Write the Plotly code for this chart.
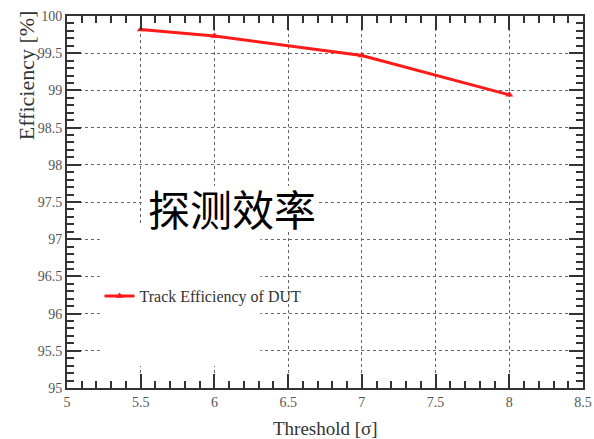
import plotly.graph_objects as go

# Track efficiency versus threshold
threshold = [5.5, 6.0, 7.0, 8.0]
efficiency = [99.82, 99.73, 99.47, 98.94]
series_name = "Track Efficiency of DUT"
x_ticks = [5, 5.5, 6, 6.5, 7, 7.5, 8, 8.5]
y_ticks = [95, 95.5, 96, 96.5, 97, 97.5, 98, 98.5, 99, 99.5, 100]

SERIF = "Liberation Serif, Times New Roman, serif"
AXIS_COLOR = "#333333"

fig = go.Figure()
fig.add_trace(go.Scatter(
    x=threshold, y=efficiency, name=series_name,
    mode="lines+markers",
    line=dict(color="#ff1a1a", width=3),
    marker=dict(symbol="triangle-up", size=7, color="#ff1a1a"),
))

axis_common = dict(
    showline=True, linecolor=AXIS_COLOR, linewidth=2, mirror="ticks",
    ticks="inside", ticklen=14, tickwidth=2, tickcolor=AXIS_COLOR,
    showgrid=True, gridcolor="#666666", gridwidth=1, griddash="dot",
    zeroline=False, automargin=False, ticklabeloverflow="allow",
    tickfont=dict(family=SERIF, size=14, color="#555555"),
    minor=dict(ticks="inside", ticklen=7, tickwidth=2, tickcolor=AXIS_COLOR,
               dtick=0.1, showgrid=False),
)

fig.update_xaxes(range=[5, 8.5], tickvals=x_ticks,
                 ticktext=[f"{v:g}" for v in x_ticks], **axis_common)
fig.update_yaxes(range=[95, 100], tickvals=y_ticks,
                 ticktext=[f"{v:g}" for v in y_ticks], **axis_common)

# White panels behind the caption and the legend hide the grid there
fig.add_shape(type="rect", xref="x", yref="y", x0=5.222, x1=6.312,
              y0=95.296, y1=97.218, fillcolor="white", line_width=0,
              layer="between")
fig.add_shape(type="rect", xref="x", yref="y", x0=5.525, x1=6.703,
              y0=97.110, y1=97.715, fillcolor="white", line_width=0,
              layer="between")

fig.add_annotation(text="探测效率", xref="x", yref="y", x=6.12, y=97.42,
                   showarrow=False,
                   font=dict(family="Noto Sans CJK SC", size=42, color="black"))

fig.add_annotation(text="Efficiency [%]", xref="paper", yref="paper",
                   x=-0.05, y=1.02, xanchor="right", yanchor="top",
                   textangle=-90, showarrow=False,
                   font=dict(family=SERIF, size=22, color=AXIS_COLOR))
fig.add_annotation(text="Threshold [σ]", xref="paper", yref="paper",
                   x=0.5, y=-0.075, xanchor="center", yanchor="top",
                   showarrow=False,
                   font=dict(family=SERIF, size=19, color=AXIS_COLOR))

fig.update_layout(
    width=594, height=439,
    margin=dict(l=67, r=11, t=16, b=51),
    paper_bgcolor="white", plot_bgcolor="white",
    showlegend=True,
    legend=dict(x=0.063, y=0.247, xanchor="left", yanchor="middle",
                bgcolor="rgba(0,0,0,0)", borderwidth=0,
                font=dict(family=SERIF, size=16, color="#333333"),
                itemwidth=30),
)

fig.write_html("out.html")
